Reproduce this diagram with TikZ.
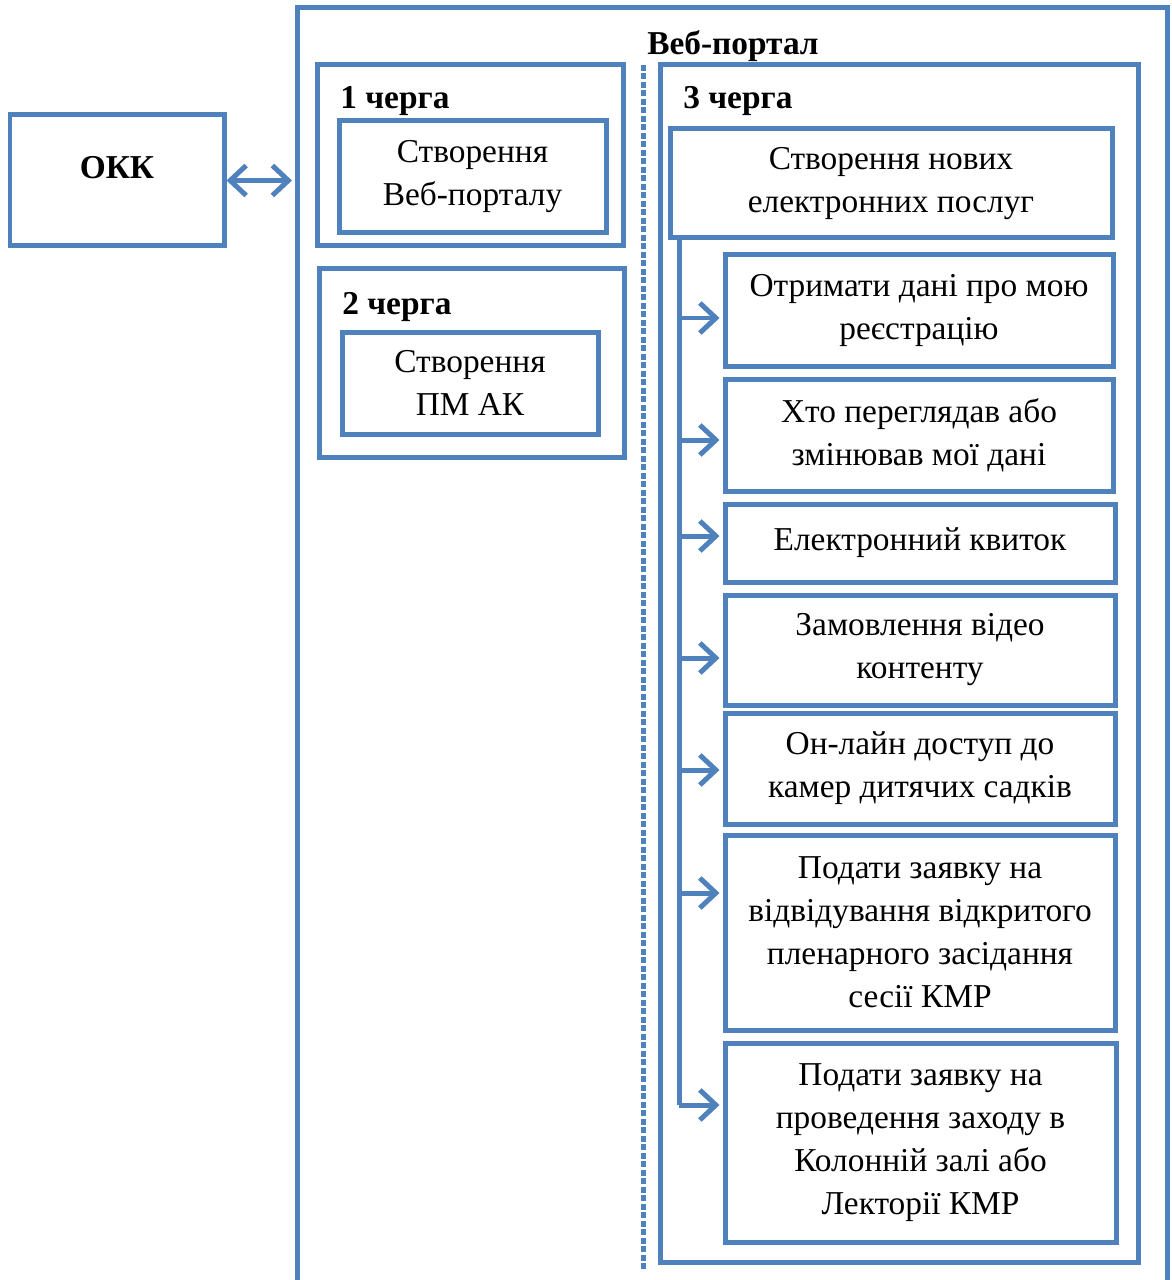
\documentclass[tikz,border=0pt]{standalone}
\usepackage{fontspec}
\setmainfont{Liberation Serif}
\usetikzlibrary{positioning,arrows.meta,fit}
\definecolor{portalblue}{HTML}{4F81BD}
\tikzset{
 frame/.style={draw=portalblue,line width=0.1cm,inner sep=0pt},
 box/.style 2 args={frame,align=center,font=\fontsize{19}{24.5}\selectfont,minimum width=#1*0.02cm,minimum height=#2*0.02cm},
 lbl/.style={font=\fontsize{19}{24}\selectfont\bfseries,inner sep=0pt},
 arr/.style={draw=portalblue,line width=0.1cm,-{Straight Barb[length=0.32cm,width=0.6cm]}},
 sep/.style={draw=portalblue,line width=0.1cm,dash pattern=on 0.12cm off 0.05cm}}

\begin{document}
\begin{tikzpicture}[x=0.02cm,y=-0.02cm]
\useasboundingbox (0,0) rectangle (1171,1280);
\node[frame,fit={(10,115) (224,246)},label={[lbl,yshift=0.26cm]center:ОКК}] (okk) {};
\node[frame,fit={(297,8) (1167,1320)}] (portal) {};
\node[lbl] (title) at (733,46) {Веб-портал};
\node[frame,fit={(317,65) (623,246)}] (g1) {};
\node[lbl,anchor=west] (l1) at (340,101) {1 черга};
\node[box={267}{112}] (c1) at (472.5,177) {Створення\\Веб-порталу};
\node[frame,fit={(319,269) (624,457)}] (g2) {};
\node[lbl,anchor=west] (l2) at (342,307) {2 черга};
\node[box={256}{102}] (c2) at (470,383) {Створення\\ПМ АК};
\draw[sep] (643,65) -- (643,1270);
\node[frame,fit={(660,65) (1138,1262)}] (g3) {};
\node[lbl,anchor=west] (l3) at (683,101) {3 черга};
\node[box={442}{109}] (hdr) at (891,183.5) {Створення нових\\електронних послуг};
\node[box={388}{111}] (s1) at (919,310.5) {Отримати дані про мою\\реєстрацію};
\node[box={388}{112}] (s2) at (919,435) {Хто переглядав або\\змінював мої дані};
\node[box={390}{78}] (s3) at (920,543) {Електронний квиток};
\node[box={390}{110}] (s4) at (920,650) {Замовлення відео\\контенту};
\node[box={390}{111}] (s5) at (920,768.5) {Он-лайн доступ до\\камер дитячих садків};
\node[box={390}{195}] (s6) at (920,932.5) {Подати заявку на\\відвідування відкритого\\пленарного засідання\\сесії КМР};
\node[box={391}{199}] (s7) at (920.5,1142.5) {Подати заявку на\\проведення заходу в\\Колонній залі або\\Лекторії КМР};
\coordinate (spine) at (679,238);
\coordinate (t1) at (s1.west |- 0,318);
\coordinate (t2) at (s2.west |- 0,440);
\coordinate (t3) at (s3.west |- 0,536);
\coordinate (t4) at (s4.west |- 0,658);
\coordinate (t5) at (s5.west |- 0,770);
\coordinate (t6) at (s6.west |- 0,893);
\coordinate (t7) at (s7.west |- 0,1105);
\draw[portalblue,line width=0.1cm] (spine) -- (spine |- t7);
\foreach \t in {t1,t2,t3,t4,t5,t6,t7}
  \draw[arr] (spine |- \t) -- ([xshift=-0.06cm]\t);
\draw[arr,{Straight Barb[length=0.32cm,width=0.6cm]}-{Straight Barb[length=0.32cm,width=0.6cm]}] (okk.east) -- ([xshift=-0.05cm]portal.west |- okk.east);
\end{tikzpicture}
\end{document}
